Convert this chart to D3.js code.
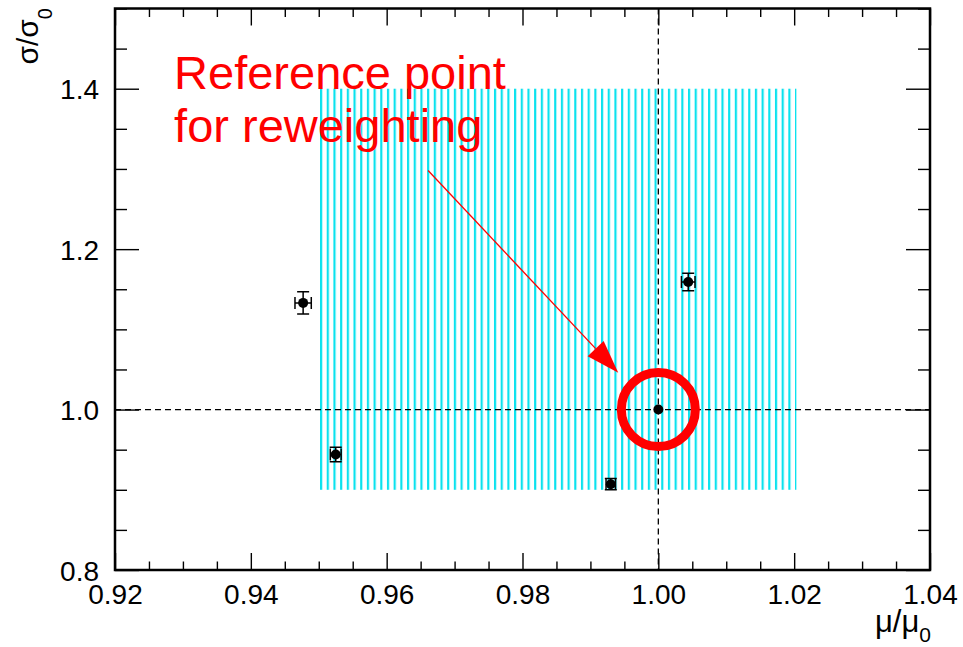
<!DOCTYPE html>
<html>
<head>
<meta charset="utf-8">
<script src="https://cdn.jsdelivr.net/npm/d3@7"></script>
<style>
  body { margin: 0; background: #fff; }
  svg { display: block; font-family: "Liberation Sans", Arial, Helvetica, sans-serif; }
  .axis path, .axis line { stroke: #000; }
  .axis text { font-size: 28px; fill: #000; }
</style>
</head>
<body>
<svg id="chart"></svg>
<script>
const W = 963, H = 647,
      margin = {top: 8.5, right: 33, bottom: 77, left: 115},
      width = W - margin.left - margin.right,
      height = H - margin.top - margin.bottom;

// measured points (mu/mu0, sigma/sigma0) with errors
const muRatio    = [0.9477, 0.9525, 0.9930, 1.0044, 1.0000];
const sigmaRatio = [1.133, 0.944, 0.907, 1.159, 1.000];
const muErr      = [0.0012, 0.0008, 0.0007, 0.0010, 0];
const sigmaErr   = [0.014, 0.009, 0.007, 0.011, 0];

// hatched reweighting window
const boxMu    = [0.95, 1.02];
const boxSigma = [0.90, 1.40];

// reference point and annotation
const refPoint  = [1.0, 1.0];
const arrowFrom = [0.9661, 1.298];
const arrowTo   = [0.9941, 1.046];
const noteLines = ["Reference point", "for reweighting"];
const noteX     = 0.9287;
const noteY     = [1.4, 1.333];

// axes
const xDomain = [0.92, 1.04];
const yDomain = [0.8, 1.5];
const xTicks = [0.92, 0.94, 0.96, 0.98, 1.00, 1.02, 1.04];
const xMinor = [0.925, 0.93, 0.935, 0.945, 0.95, 0.955, 0.965, 0.97, 0.975, 0.985, 0.99, 0.995,
                1.005, 1.01, 1.015, 1.025, 1.03, 1.035];
const yTicks = [0.8, 1.0, 1.2, 1.4];
const yMinor = [0.85, 0.9, 0.95, 1.05, 1.1, 1.15, 1.25, 1.3, 1.35, 1.45, 1.5];

let svg = d3.select("#chart")
            .attr("width", W)
            .attr("height", H);

let chart = svg.append("g")
               .attr("transform", "translate(" + margin.left + "," + margin.top + ")");

let x = d3.scaleLinear().domain(xDomain).range([0, width]);
let y = d3.scaleLinear().domain(yDomain).range([height, 0]);

// hatch pattern
svg.append("defs").append("pattern")
   .attr("id", "hatch")
   .attr("patternUnits", "userSpaceOnUse")
   .attr("x", margin.left + x(boxMu[0]))
   .attr("width", 6.69)
   .attr("height", 10)
   .append("rect")
   .attr("width", 2.2)
   .attr("height", 10)
   .attr("fill", "#0ae2ee");

chart.append("rect")
     .attr("x", x(boxMu[0]))
     .attr("y", y(boxSigma[1]))
     .attr("width", x(boxMu[1]) - x(boxMu[0]) + 2.2)
     .attr("height", y(boxSigma[0]) - y(boxSigma[1]))
     .style("fill", "url(#hatch)");

// dashed reference lines
chart.append("line")
     .attr("x1", 0).attr("x2", width)
     .attr("y1", y(refPoint[1])).attr("y2", y(refPoint[1]))
     .attr("stroke", "#000").attr("stroke-width", 1.3)
     .attr("stroke-dasharray", "6,4");
chart.append("line")
     .attr("x1", x(refPoint[0])).attr("x2", x(refPoint[0]))
     .attr("y1", 0).attr("y2", height)
     .attr("stroke", "#000").attr("stroke-width", 1.3)
     .attr("stroke-dasharray", "6,4");

// axes: major + minor, ticks point inward, mirrored on top/right
function addAxis(axis, vals, size, label, transform) {
  let g = chart.append("g")
       .attr("class", "axis")
       .attr("transform", transform)
       .call(axis.tickValues(vals).tickSize(-size).tickPadding(label ? 14 : 0)
                 .tickFormat(label ? d3.format(".2f") : ""));
  g.select(".domain").remove();
  g.selectAll("line").attr("stroke-width", 1.4);
  return g;
}
let bx = addAxis(d3.axisBottom(x), xTicks, 17, true, "translate(0," + height + ")");
bx.selectAll("text").attr("dy", "0.72em");
addAxis(d3.axisBottom(x), xMinor, 8.5, false, "translate(0," + height + ")");
addAxis(d3.axisTop(x), xTicks, 17, false, "");
addAxis(d3.axisTop(x), xMinor, 8.5, false, "");

let ly = addAxis(d3.axisLeft(y), yTicks, 24, true, "");
ly.selectAll("text").text(d => d3.format(".1f")(d)).attr("dy", "0.36em").attr("x", -16);
addAxis(d3.axisLeft(y), yMinor, 12, false, "");
addAxis(d3.axisRight(y), yTicks, 24, false, "translate(" + width + ",0)");
addAxis(d3.axisRight(y), yMinor, 12, false, "translate(" + width + ",0)");

// frame
chart.append("rect")
     .attr("width", width)
     .attr("height", height)
     .style("fill", "none")
     .style("stroke", "#000")
     .style("stroke-width", 2.5);

// data points with error bars
const pts = muRatio.map((m, i) => ({m: m, s: sigmaRatio[i], em: muErr[i], es: sigmaErr[i]}));
let pg = chart.selectAll(".pt")
              .data(pts)
              .enter().append("g")
              .attr("class", "pt");
const cap = 6;
pg.filter(d => d.em > 0).each(function(d) {
  let g = d3.select(this);
  let cx = x(d.m), cy = y(d.s);
  let x0 = x(d.m - d.em), x1 = x(d.m + d.em), y0 = y(d.s - d.es), y1 = y(d.s + d.es);
  let path = "M" + x0 + "," + cy + "H" + x1 +
             "M" + cx + "," + y0 + "V" + y1 +
             "M" + x0 + "," + (cy - cap) + "V" + (cy + cap) +
             "M" + x1 + "," + (cy - cap) + "V" + (cy + cap) +
             "M" + (cx - cap) + "," + y0 + "H" + (cx + cap) +
             "M" + (cx - cap) + "," + y1 + "H" + (cx + cap);
  g.append("path").attr("d", path).attr("stroke", "#000").attr("stroke-width", 1.5).attr("fill", "none");
});
pg.append("circle")
  .attr("cx", d => x(d.m))
  .attr("cy", d => y(d.s))
  .attr("r", 5)
  .attr("fill", "#000");

// red circle round reference point
chart.append("circle")
     .attr("cx", x(refPoint[0]))
     .attr("cy", y(refPoint[1]))
     .attr("r", 37)
     .attr("fill", "none")
     .attr("stroke", "#ff0000")
     .attr("stroke-width", 9);

// arrow
let ax0 = x(arrowFrom[0]), ay0 = y(arrowFrom[1]),
    ax1 = x(arrowTo[0]), ay1 = y(arrowTo[1]);
let ang = Math.atan2(ay1 - ay0, ax1 - ax0),
    headLen = 33, headHalf = 11;
let bxp = ax1 - headLen * Math.cos(ang), byp = ay1 - headLen * Math.sin(ang);
chart.append("line")
     .attr("x1", ax0).attr("y1", ay0)
     .attr("x2", bxp).attr("y2", byp)
     .attr("stroke", "#ff0000")
     .attr("stroke-width", 1.3);
chart.append("polygon")
     .attr("points", [
       [ax1, ay1],
       [bxp + headHalf * Math.sin(ang), byp - headHalf * Math.cos(ang)],
       [bxp - headHalf * Math.sin(ang), byp + headHalf * Math.cos(ang)]
     ].map(p => p.join(",")).join(" "))
     .attr("fill", "#ff0000");

// annotation text
chart.selectAll(".note")
     .data(noteLines)
     .enter().append("text")
     .attr("class", "note")
     .attr("x", x(noteX))
     .attr("y", (d, i) => y(noteY[i]))
     .style("font-size", "47px")
     .style("fill", "#ff0000")
     .text(d => d);

// axis titles
let xt = svg.append("text")
            .attr("x", 931)
            .attr("y", 632)
            .style("text-anchor", "end")
            .style("font-size", "31px");
xt.append("tspan").text("μ/μ");
xt.append("tspan").attr("dy", 10).style("font-size", "21px").text("0");

let yt = svg.append("text")
            .attr("transform", "translate(38,8) rotate(-90)")
            .style("text-anchor", "end")
            .style("font-size", "30px");
yt.append("tspan").text("σ/σ");
yt.append("tspan").attr("dy", 14).style("font-size", "20px").text("0");
</script>
</body>
</html>
